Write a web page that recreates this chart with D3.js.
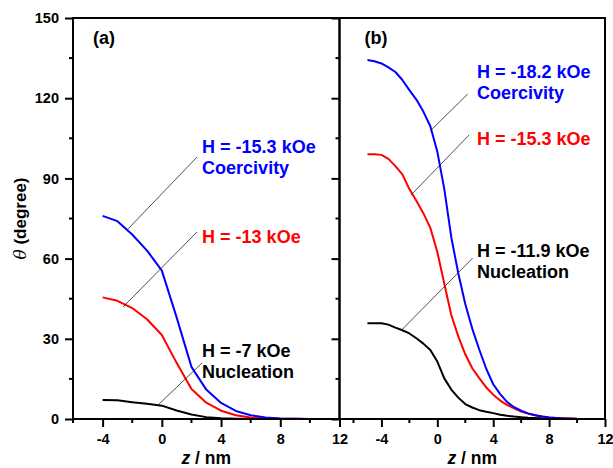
<!DOCTYPE html>
<html>
<head>
<meta charset="utf-8">
<script src="https://cdn.jsdelivr.net/npm/d3@7"></script>
<style>
  body { margin: 0; background: #fff; }
  svg text { font-family: "Liberation Sans", Arial, sans-serif; font-weight: bold; }
</style>
</head>
<body>
<svg id="chart" width="613" height="468"></svg>
<script>
'use strict';

// panel (a) : theta vs z, one value per nm
var zA = [-4, -3, -2, -1, 0, 1, 2, 3, 4, 5, 6, 7, 8, 9, 10];
var blueA = [76, 74, 69, 63, 55.5, 38, 19.5, 11, 6, 3, 1.4, 0.6, 0.2, 0.1, 0];
var redA = [45.5, 44.2, 41.5, 37.3, 31.4, 21, 11.2, 6.1, 3.1, 1.4, 0.6, 0.25, 0.1, 0.05, 0];
var blackA = [7.1, 7.0, 6.3, 5.7, 5.0, 3.2, 1.7, 0.7, 0.25, 0.1, 0.05, 0, 0, 0, 0];

// panel (b) : theta vs z, every 0.5 nm
var zB = [-5, -4.5, -4, -3.5, -3, -2.5, -2, -1.5, -1, -0.5, 0, 0.5, 1, 1.5, 2, 2.5, 3,
          3.5, 4, 4.5, 5, 5.5, 6, 6.5, 7, 7.5, 8, 8.5, 9, 9.5, 10];
var blueB = [134.3, 133.8, 133, 131.5, 129.8, 126.8, 123, 119.5, 115, 109.5, 100, 86, 68,
             54.5, 43, 33.8, 26, 18.8, 13, 9.3, 6.3, 4.4, 3.1, 2.1, 1.4, 0.9, 0.55, 0.35, 0.2, 0.1, 0.05];
var redB = [99, 99, 98.8, 97.3, 94.6, 91.5, 86, 81.6, 77, 71.5, 62.5, 50.6, 38.9,
            30.9, 24.2, 19, 15.3, 11.8, 9.1, 6.9, 5.2, 4, 2.8, 2, 1.4, 0.9, 0.6, 0.4, 0.25, 0.15, 0.1];
var blackB = [35.8, 35.8, 35.8, 35.3, 34.2, 33.2, 32, 30.2, 28.2, 25.8, 21.5, 15.2, 11,
              8, 5.6, 4.3, 3.3, 2.7, 2.2, 1.6, 1.2, 0.9, 0.7, 0.5, 0.4, 0.3, 0.2, 0.15, 0.1, 0.05, 0];

var yTicks = [0, 30, 60, 90, 120, 150];
var yMinor = [15, 45, 75, 105, 135];
var xTicks = [-4, 0, 4, 8, 12];
var xMinor = [-6, -2, 2, 6, 10];

// annotations: text lines, color, text z/theta, leader from z/theta to z/theta
var notesA = [
  { lines: ["H = -15.3 kOe", "Coercivity"], color: "#0000ff", tz: 2.72, tt: 99.5, l: [2.38, 98, -2.35, 70.7] },
  { lines: ["H = -13 kOe"], color: "#ff0000", tz: 2.72, tt: 65.8, l: [2.38, 70, -2.62, 41.9] },
  { lines: ["H = -7 kOe", "Nucleation"], color: "#000000", tz: 2.72, tt: 23.2, l: [2.72, 21, -0.26, 5.2] }
];
var notesB = [
  { lines: ["H = -18.2 kOe", "Coercivity"], color: "#0000ff", tz: 2.84, tt: 127.6, l: [2.18, 121.6, -0.52, 107.7] },
  { lines: ["H = -15.3 kOe"], color: "#ff0000", tz: 2.84, tt: 102.5, l: [2.27, 106.2, -1.88, 83.8] },
  { lines: ["H = -11.9 kOe", "Nucleation"], color: "#000000", tz: 2.84, tt: 60.6, l: [2.53, 60.2, -2.55, 33.3] }
];

(function () {
  var svg = d3.select("#chart");
  var plotTop = 18, plotBottom = 419;

  var y = d3.scaleLinear().domain([0, 150]).range([plotBottom, plotTop]);
  var xa = d3.scaleLinear().domain([-6, 12]).range([73, 339.5]);
  var xb = d3.scaleLinear().domain([-7, 12]).range([339.5, 605]);

  function drawPanel(x, zs, series, notes, label, leftAxis) {
    var g = svg.append("g");
    var x0 = x.range()[0], x1 = x.range()[1];

    // curves
    series.forEach(function (s) {
      var line = d3.line()
        .x(function (d, i) { return x(zs[i]); })
        .y(function (d) { return y(d); });
      g.append("path")
        .attr("d", line(s.values))
        .attr("fill", "none")
        .attr("stroke", s.color)
        .attr("stroke-width", 2)
        .attr("stroke-linejoin", "round");
    });

    // leader lines + labels
    notes.forEach(function (n) {
      g.append("line")
        .attr("x1", x(n.l[0])).attr("y1", y(n.l[1]))
        .attr("x2", x(n.l[2])).attr("y2", y(n.l[3]))
        .attr("stroke", "#222").attr("stroke-width", 0.8);
      n.lines.forEach(function (t, i) {
        g.append("text")
          .attr("x", x(n.tz))
          .attr("y", y(n.tt) + i * 21)
          .attr("fill", n.color)
          .attr("font-size", 18)
          .text(t);
      });
    });

    // bottom axis
    var ax = g.append("g").attr("transform", "translate(0," + plotBottom + ")");
    ax.call(d3.axisBottom(x).tickValues(xTicks).tickSize(8));
    ax.selectAll(".tick text").attr("font-size", 14.5).attr("y", 15)
      .text(function (d) { return d < 0 ? "-" + Math.abs(d) : d; });
    ax.selectAll(".tick line").attr("stroke-width", 2);
    ax.select(".domain").remove();
    xMinor.forEach(function (v) {
      if (v < x.domain()[0]) return;
      ax.append("line").attr("x1", x(v)).attr("x2", x(v)).attr("y1", 0).attr("y2", 4)
        .attr("stroke", "#000").attr("stroke-width", 2);
    });

    // left axis ticks
    var ay = g.append("g").attr("transform", "translate(" + x0 + ",0)");
    ay.call(d3.axisLeft(y).tickValues(yTicks).tickSize(8).tickPadding(6));
    ay.selectAll(".tick line").attr("stroke-width", 2);
    ay.select(".domain").remove();
    if (leftAxis) {
      ay.selectAll(".tick text").attr("font-size", 14.5);
    } else {
      ay.selectAll(".tick text").remove();
    }
    yMinor.forEach(function (v) {
      ay.append("line").attr("x1", -4).attr("x2", 0).attr("y1", y(v)).attr("y2", y(v))
        .attr("stroke", "#000").attr("stroke-width", 2);
    });

    // frame
    g.append("rect")
      .attr("x", x0).attr("y", plotTop)
      .attr("width", x1 - x0).attr("height", plotBottom - plotTop)
      .attr("fill", "none").attr("stroke", "#000").attr("stroke-width", 2);

    g.append("text")
      .attr("x", x0 + (leftAxis ? 20 : 25)).attr("y", 44)
      .attr("font-size", 18)
      .text(label);

    var title = g.append("text")
      .attr("x", (x0 + x1) / 2).attr("y", 464)
      .attr("text-anchor", "middle")
      .attr("font-size", 17.5);
    title.append("tspan").attr("font-style", "italic").text("z");
    title.append("tspan").text(" / nm");
  }

  drawPanel(xa, zA, [
    { values: blackA, color: "#000000" },
    { values: redA, color: "#ff0000" },
    { values: blueA, color: "#0000ff" }
  ], notesA, "(a)", true);

  drawPanel(xb, zB, [
    { values: blackB, color: "#000000" },
    { values: redB, color: "#ff0000" },
    { values: blueB, color: "#0000ff" }
  ], notesB, "(b)", false);

  // y axis title
  var yt = svg.append("text")
    .attr("transform", "translate(26," + (plotTop + plotBottom) / 2 + ") rotate(-90)")
    .attr("text-anchor", "middle")
    .attr("font-size", 17);
  yt.append("tspan").attr("font-style", "italic").attr("font-weight", "normal")
    .attr("font-family", "'DejaVu Serif', serif").text("\u03b8");
  yt.append("tspan").text(" (degree)");
})();
</script>
</body>
</html>
